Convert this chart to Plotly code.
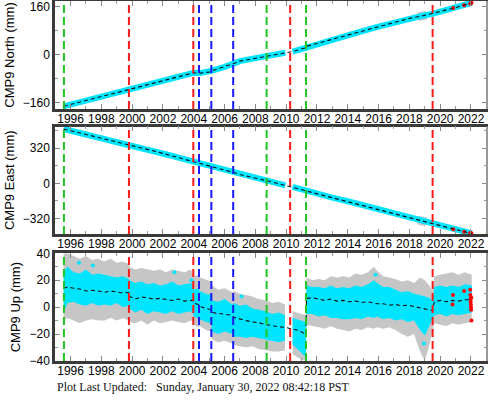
import plotly.graph_objects as go

# ---------------- data ----------------
# vertical event lines (decimal years) and their colours
event_years = [1995.57, 1999.79, 2003.97, 2004.34, 2005.14, 2006.56, 2008.73, 2010.26, 2011.29, 2019.51]
event_kinds = ["green", "red", "red", "blue", "blue", "blue", "green", "red", "green", "red"]

# data gap (no observations)
gap_start, gap_end = 2009.97, 2010.40

# North / East horizontal series (mm)
gnss_t = [1995.55, 1996.0, 1997.0, 1998.0, 1999.0, 1999.8, 2000.5, 2001.5, 2002.5, 2003.5,
          2004.0, 2004.4, 2005.1, 2005.2, 2006.0, 2006.6, 2007.0, 2008.0, 2008.7, 2009.5,
          2009.95, 2010.42, 2011.28, 2011.35, 2012.0, 2013.0, 2014.0, 2015.0, 2016.0, 2017.0,
          2018.0, 2018.8, 2019.55, 2020.0, 2021.0, 2022.05]
north = [-172, -166, -153, -140, -127, -116, -107, -94, -81, -67,
         -60, -61, -57, -53, -40, -29, -21, -11, -6, 3,
         7, 11, 24, 29, 38, 52, 66, 80, 94, 108,
         122, 130, 138, 145, 158, 174]
east = [496, 481, 446, 412, 378, 352, 330, 292, 254, 216,
        198, 184, 160, 156, 125, 98, 80, 50, 25, -3,
        -18, -33, -68, -72, -96, -130, -164, -201, -238, -275,
        -313, -343, -371, -387, -422, -458]

# grey error-bar blob around 2018.5-2019.2
blob_t = [2018.55, 2019.1]
north_blob = [127, 133]
east_blob = [-335, -355]

# red (recent) points
red_t = [2020.85, 2021.55, 2021.95, 2021.98, 2022.0, 2022.03]
north_red = [157, 166, 171, 172, 173, 174]
east_red = [-420, -443, -455, -456, -457, -458]

# Up component: model, cyan scatter envelope, grey error envelope (mm)
up_t = [1995.55, 1995.8, 1996.2, 1996.6, 1997.0, 1997.4, 1997.8, 1998.2, 1998.6, 1999.0,
        1999.4, 1999.78, 1999.82, 2000.2, 2000.6, 2001.0, 2001.4, 2001.8, 2002.2, 2002.6,
        2003.0, 2003.4, 2003.8, 2003.96, 2004.0, 2004.3, 2004.4, 2004.8, 2005.12, 2005.18,
        2005.6, 2006.0, 2006.5, 2006.6, 2007.0, 2007.4, 2007.8, 2008.2, 2008.7, 2009.1,
        2009.5, 2009.92, 2010.42, 2010.7, 2011.0, 2011.28, 2011.32, 2011.7, 2012.1, 2012.5,
        2012.9, 2013.3, 2013.7, 2014.1, 2014.5, 2014.9, 2015.3, 2015.7, 2015.9, 2016.3,
        2016.7, 2017.1, 2017.5, 2017.9, 2018.3, 2018.7, 2019.0, 2019.3, 2019.5, 2019.62,
        2020.0, 2020.4, 2020.8, 2021.2, 2021.6, 2022.05]
up_model = [14, 15, 14, 13.5, 12, 12.5, 12, 11, 12, 11,
            10.5, 11, 8, 6, 7.5, 7, 6, 6.5, 5.5, 5,
            6, 4.5, 5, 5, 3, 2, 0.5, -1, -2, -4,
            -4.5, -5, -6, -7.5, -9, -10, -11, -11.5, -13, -14,
            -14.5, -15, -16, -17, -18.5, -20, 6.5, 7, 6, 5,
            6, 4.5, 5, 4, 4.5, 3.5, 4, 3, 2.5, 2.5,
            1.5, 2, 1, 1.5, 0.5, 0, -1, -2, -2.5, 4,
            5, 4, 5, 4.5, 5.5, 5.5]
up_cyan_hi = [27, 30, 26, 25, 28, 24, 25, 24, 23, 22,
              23, 21, 20, 18, 19, 17, 18, 16, 17, 19,
              16, 17, 18, 16, 13, 14, 12, 10, 9, 5,
              4, 6, 2, 3, 1, 2, -1, -2, -3, -5,
              -4, -6, -8, -9, -10, -11, 16, 15, 15, 14,
              16, 14, 15, 14, 16, 15, 17, 20, 18, 15,
              15, 13, 11, 12, 10, 9, 8, 7, 5, 15,
              16, 15, 16, 15, 17, 16]
up_cyan_lo = [-4, 3, 4, 2, 1, 3, 1, 2, 1, 3,
              0, 1, -1, -4, -2, -5, -3, -4, -5, -3,
              -5, -4, -3, -5, -7, -8, -9, -11, -12, -18,
              -20, -18, -20, -22, -22, -23, -22, -23, -24, -25,
              -26, -25, -28, -31, -34, -37, -5, -5, -7, -6,
              -8, -8, -9, -9, -8, -9, -7, -8, -7, -9,
              -8, -10, -9, -11, -10, -17, -21, -14, -9, -6,
              -5, -7, -5, -6, -5, -4]
up_grey_hi = [40, 40, 38, 36, 38, 35, 36, 34, 36, 33,
              34, 32, 30, 28, 29, 28, 27, 28, 26, 28,
              27, 26, 28, 25, 23, 24, 22, 20, 19, 16,
              13, 14, 11, 12, 10, 9, 8, 6, 5, 3,
              4, 2, -3, -4, -5, -6, 22, 20, 21, 20,
              23, 22, 23, 22, 25, 24, 26, 30, 27, 23,
              22, 21, 19, 20, 18, 22, 20, 16, 12, 23,
              24, 25, 26, 24, 26, 24]
up_grey_lo = [-10, -8, -10, -12, -10, -9, -10, -10, -8, -10,
              -8, -10, -11, -12, -10, -13, -10, -12, -11, -10,
              -11, -12, -10, -11, -13, -15, -14, -17, -18, -24,
              -26, -25, -27, -28, -29, -30, -29, -31, -32, -33,
              -33, -32, -35, -37, -39, -40, -13, -14, -15, -16,
              -14, -16, -17, -18, -16, -17, -15, -16, -15, -16,
              -15, -17, -20, -22, -20, -33, -40, -28, -18, -12,
              -13, -14, -12, -13, -12, -11]

# a few isolated cyan outliers in Up
up_out_t = [1996.55, 1997.45, 2002.75, 2003.85, 2015.8, 2018.95, 2007.1, 2013.2]
up_out = [33, 31, 26, 20, 24, -27, 8, 12]

# recent red Up points
up_red_t = [2020.8, 2020.83, 2021.55, 2021.95, 2021.96, 2021.97, 2021.98, 2021.99, 2022.0, 2022.01, 2022.02, 2022.03]
up_red = [2, 9, 12, 13, 9, 6, 4, 2, 0, -2, 7, -10]

# axis settings
x_range = [1994.99, 2023.04]
y_ranges = [[-181, 180], [-463, 519], [-40, 40]]
y_dticks = [160, 320, 20]
y_minor = [80, 160, 10]
y_titles = ["CMP9 North (mm)", "CMP9 East (mm)", "CMP9 Up (mm)"]
footer = "Plot Last Updated:\u00a0\u00a0\u00a0Sunday, January 30, 2022 08:42:18 PST"

# ---------------- styling ----------------
CYAN = "#00e5ff"
GREY = "#c6c6c6"
COLORS = {"green": "#22c422", "red": "#ff1a1a", "blue": "#1a1aff"}
FONT = "Liberation Sans, Arial, sans-serif"


def split_gap(t, v):
    xs, ys = [], []
    for a, b in zip(t, v):
        if xs and xs[-1] is not None and xs[-1] < gap_start and a > gap_end - 0.05:
            xs.append(None)
            ys.append(None)
        xs.append(a)
        ys.append(b)
    return xs, ys


def segments(t):
    segs, cur = [], []
    for i, a in enumerate(t):
        if cur and t[cur[-1]] < gap_start and a > gap_end - 0.05:
            segs.append(cur)
            cur = []
        cur.append(i)
    segs.append(cur)
    return segs


fig = go.Figure()

# panels 1 & 2
for k, (vals, blob, reds) in enumerate([(north, north_blob, north_red), (east, east_blob, east_red)]):
    xa, ya = ("x", "y") if k == 0 else ("x2", "y2")
    fig.add_trace(go.Scatter(x=blob_t, y=blob, mode="lines", line=dict(color=GREY, width=9),
                             opacity=0.9, xaxis=xa, yaxis=ya, hoverinfo="skip"))
    gx, gy = split_gap(gnss_t, vals)
    fig.add_trace(go.Scatter(x=gx, y=gy, mode="lines", line=dict(color=CYAN, width=6),
                             connectgaps=False, xaxis=xa, yaxis=ya))
    fig.add_trace(go.Scatter(x=red_t, y=reds, mode="markers",
                             marker=dict(color="#ff0000", size=4), xaxis=xa, yaxis=ya))
    fig.add_trace(go.Scatter(x=gnss_t, y=vals, mode="lines",
                             line=dict(color="#111", width=1.1, dash="4px,3px"), xaxis=xa, yaxis=ya))

# panel 3 (Up)
for idx in segments(up_t):
    tt = [up_t[i] for i in idx]
    for hi, lo, col, op in [(up_grey_hi, up_grey_lo, GREY, 1.0), (up_cyan_hi, up_cyan_lo, CYAN, 1.0)]:
        h = [hi[i] for i in idx]
        l = [lo[i] for i in idx]
        fig.add_trace(go.Scatter(x=tt + tt[::-1], y=h + l[::-1], fill="toself", fillcolor=col,
                                 mode="lines", line=dict(width=0, color=col), opacity=op,
                                 xaxis="x3", yaxis="y3", hoverinfo="skip"))
fig.add_trace(go.Scatter(x=up_out_t, y=up_out, mode="markers", marker=dict(color=CYAN, size=4),
                         xaxis="x3", yaxis="y3"))
fig.add_trace(go.Scatter(x=up_red_t, y=up_red, mode="markers", marker=dict(color="#ff0000", size=4),
                         xaxis="x3", yaxis="y3"))
fig.add_trace(go.Scatter(x=up_t, y=up_model, mode="lines",
                         line=dict(color="#111", width=1.1, dash="4px,3px"), xaxis="x3", yaxis="y3"))

# event lines and right border
shapes = []
for n in range(3):
    xr = "x" if n == 0 else f"x{n+1}"
    yr = "y" if n == 0 else f"y{n+1}"
    for yr_, kind in zip(event_years, event_kinds):
        shapes.append(dict(type="line", xref=xr, yref=f"{yr} domain", x0=yr_, x1=yr_, y0=0, y1=1,
                           line=dict(color=COLORS[kind], width=2, dash="8px,4px"), layer="above"))
    shapes.append(dict(type="line", xref=f"{xr} domain", yref=f"{yr} domain", x0=1, x1=1, y0=0, y1=1,
                       line=dict(color="#9a9a9a", width=2), layer="above"))

H_TOP, H_BOT = 1, 39
plot_h = 400 - H_TOP - H_BOT


def dom(p_top, p_bot):
    return [(400 - H_BOT - p_bot) / plot_h, (400 - H_BOT - p_top) / plot_h]


domains = [dom(1, 109), dom(126.5, 234), dom(253.3, 361)]

layout = dict(
    width=488, height=400, margin=dict(l=55, r=1, t=H_TOP, b=H_BOT, autoexpand=False),
    plot_bgcolor="white", paper_bgcolor="white", showlegend=False,
    font=dict(family=FONT, size=12, color="black"), shapes=shapes,
    annotations=[dict(text=footer, xref="paper", yref="paper", x=0, y=(400 - H_BOT - 387) / plot_h,
                      xanchor="left", yanchor="middle", showarrow=False,
                      font=dict(family="Liberation Serif, Times New Roman, serif", size=12, color="#111"))],
)
for n in range(3):
    xk = "xaxis" if n == 0 else f"xaxis{n+1}"
    yk = "yaxis" if n == 0 else f"yaxis{n+1}"
    ya = "y" if n == 0 else f"y{n+1}"
    xa = "x" if n == 0 else f"x{n+1}"
    layout[xk] = dict(domain=[0, 1], anchor=ya, range=x_range, tick0=1996, dtick=2,
                      ticks="inside", ticklen=5, tickwidth=1, tickcolor="#888",
                      minor=dict(dtick=1, ticks="inside", ticklen=3, tickcolor="#999"),
                      showline=True, linecolor="#3a3a3a", linewidth=2.5, mirror="ticks",
                      showgrid=False, zeroline=False, automargin=False, ticklabelstandoff=-3,
                      tickfont=dict(size=12, family=FONT))
    layout[yk] = dict(domain=domains[n], anchor=xa, range=y_ranges[n], tick0=0, dtick=y_dticks[n],
                      ticks="inside", ticklen=5, tickwidth=1, tickcolor="#888",
                      minor=dict(dtick=y_minor[n], ticks="inside", ticklen=3, tickcolor="#999"),
                      showline=True, linecolor="#3a3a3a", linewidth=2.5, mirror="ticks",
                      showgrid=False, zeroline=False, automargin=False,
                      tickfont=dict(size=12, family=FONT),
                      title=dict(text=y_titles[n], font=dict(size=13, family=FONT), standoff=6))

fig.update_layout(**layout)
fig.write_html("out.html", config={"displayModeBar": False},
               post_script="document.body.style.margin='0';document.body.style.overflow='hidden';")
